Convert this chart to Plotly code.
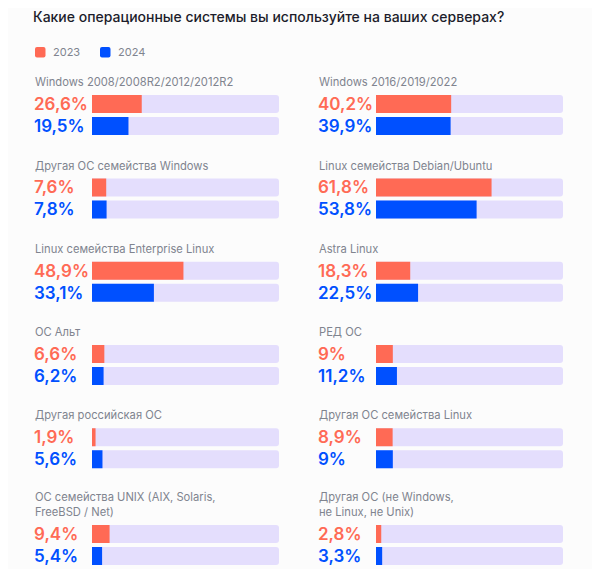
import plotly.graph_objects as go

title = "Какие операционные системы вы используйте на ваших серверах?"
series_names = ["2023", "2024"]
categories = [
    "Windows 2008/2008R2/2012/2012R2",
    "Windows 2016/2019/2022",
    "Другая ОС семейства Windows",
    "Linux семейства Debian/Ubuntu",
    "Linux семейства Enterprise Linux",
    "Astra Linux",
    "ОС Альт",
    "РЕД ОС",
    "Другая российская ОС",
    "Другая ОС семейства Linux",
    "ОС семейства UNIX (AIX, Solaris,\nFreeBSD / Net)",
    "Другая ОС (не Windows,\nне Linux, не Unix)",
]
v2023 = [26.6, 40.2, 7.6, 61.8, 48.9, 18.3, 6.6, 9, 1.9, 8.9, 9.4, 2.8]
v2024 = [19.5, 39.9, 7.8, 53.8, 33.1, 22.5, 6.2, 11.2, 5.6, 9, 5.4, 3.3]
scale_max = 100

# the page body has an 8px margin: size the figure so it fits the window
OFF = 8
W, H = 600 - OFF, 569 - OFF
C_2023 = "#FF6A55"
C_2024 = "#0050FF"
C_TRACK = "#E4DEFD"
C_LABEL = "#80848F"
C_TITLE = "#1C1D2B"
FONT = "Inter, Roboto, sans-serif"
LABEL_SIZE = 11.2

# layout (window pixel positions)
col_text_x = [32, 316]
col_bar_x = [(92, 279), (376, 563)]
row_centers = [104, 187.5, 270.7, 354, 437.2, 534]
row_step = 22  # distance between the two bars of a panel


def px_x(p):
    return (p - OFF) / W


def px_y(p):
    return 1 - (p - OFF) / H


def fmt(v):
    if float(v).is_integer():
        return f"{int(v)}%"
    return f"{v:.1f}".replace(".", ",") + "%"


fig = go.Figure()
layout = {}
annotations = []

for i, cat in enumerate(categories):
    col = i % 2
    row = i // 2
    k = i + 1
    xa = "x" if k == 1 else f"x{k}"
    ya = "y" if k == 1 else f"y{k}"
    c = row_centers[row]
    # track
    fig.add_trace(go.Bar(
        x=[scale_max, scale_max], y=[0, 1], orientation="h",
        marker=dict(color=C_TRACK, line=dict(width=0)),
        xaxis=xa, yaxis=ya, showlegend=False, hoverinfo="skip",
    ))
    fig.add_trace(go.Bar(
        x=[v2023[i], v2024[i]], y=[0, 1], orientation="h",
        marker=dict(color=[C_2023, C_2024], line=dict(width=0)),
        xaxis=xa, yaxis=ya, showlegend=False,
        hovertemplate="%{x}%<extra></extra>",
    ))
    x0, x1 = col_bar_x[col]
    top = c - row_step / 2
    bottom = c + row_step * 1.5
    layout["xaxis" if k == 1 else f"xaxis{k}"] = dict(
        domain=[px_x(x0), px_x(x1)], range=[0, scale_max], anchor=ya,
        visible=False, fixedrange=True,
    )
    layout["yaxis" if k == 1 else f"yaxis{k}"] = dict(
        domain=[max(0, px_y(bottom)), px_y(top)], range=[1.5, -0.5], anchor=xa,
        visible=False, fixedrange=True,
    )
    # value labels
    for j, (vals, colr) in enumerate([(v2023, C_2023), (v2024, C_2024)]):
        annotations.append(dict(
            text=fmt(vals[i]), xref="paper", yref=ya,
            x=px_x(col_text_x[col]), y=j, xanchor="left", yanchor="middle",
            showarrow=False,
            font=dict(family=FONT, size=17, color=colr, weight=600),
        ))
    # category label (last line sits 22px above first bar centre)
    lines = cat.split("\n")
    n = len(lines)
    lineh = 1.3 * LABEL_SIZE
    yc = c - 22 - (n - 1) * lineh / 2
    annotations.append(dict(
        text="<br>".join(lines), xref="paper", yref="paper",
        x=px_x(col_text_x[col] + 1), y=px_y(yc), align="left",
        xanchor="left", yanchor="middle", showarrow=False,
        font=dict(family=FONT, size=LABEL_SIZE, color=C_LABEL),
    ))

# custom legend
shapes = []
legend_items = [(series_names[0], C_2023, 35), (series_names[1], C_2024, 100)]
for name, colr, lx in legend_items:
    y0, y1 = 47, 57.5
    x0, x1 = lx, lx + 10.5
    r = 2
    path = (f"M{px_x(x0 + r)},{px_y(y0)} L{px_x(x1 - r)},{px_y(y0)} "
            f"Q{px_x(x1)},{px_y(y0)} {px_x(x1)},{px_y(y0 + r)} "
            f"L{px_x(x1)},{px_y(y1 - r)} Q{px_x(x1)},{px_y(y1)} {px_x(x1 - r)},{px_y(y1)} "
            f"L{px_x(x0 + r)},{px_y(y1)} Q{px_x(x0)},{px_y(y1)} {px_x(x0)},{px_y(y1 - r)} "
            f"L{px_x(x0)},{px_y(y0 + r)} Q{px_x(x0)},{px_y(y0)} {px_x(x0 + r)},{px_y(y0)} Z")
    shapes.append(dict(type="path", path=path, xref="paper", yref="paper",
                       fillcolor=colr, line=dict(width=0)))
    annotations.append(dict(
        text=name, xref="paper", yref="paper", x=px_x(x1 + 5), y=px_y(52.3),
        xanchor="left", yanchor="middle", showarrow=False,
        font=dict(family=FONT, size=11, color=C_LABEL),
    ))

fig.update_layout(
    width=W, height=H,
    margin=dict(l=0, r=0, t=0, b=0),
    paper_bgcolor="#FCFCFC", plot_bgcolor="rgba(0,0,0,0)",
    barmode="overlay", bargap=4 / 22, barcornerradius=3,
    showlegend=False,
    title=dict(text=title, x=px_x(33), xanchor="left", xref="paper",
               y=1 - (17 - OFF) / H, yanchor="middle", yref="container",
               font=dict(family=FONT, size=14, color=C_TITLE, weight=500)),
    annotations=annotations,
    shapes=shapes,
    **layout,
)

fig.write_html("out.html", config={"displayModeBar": False})
